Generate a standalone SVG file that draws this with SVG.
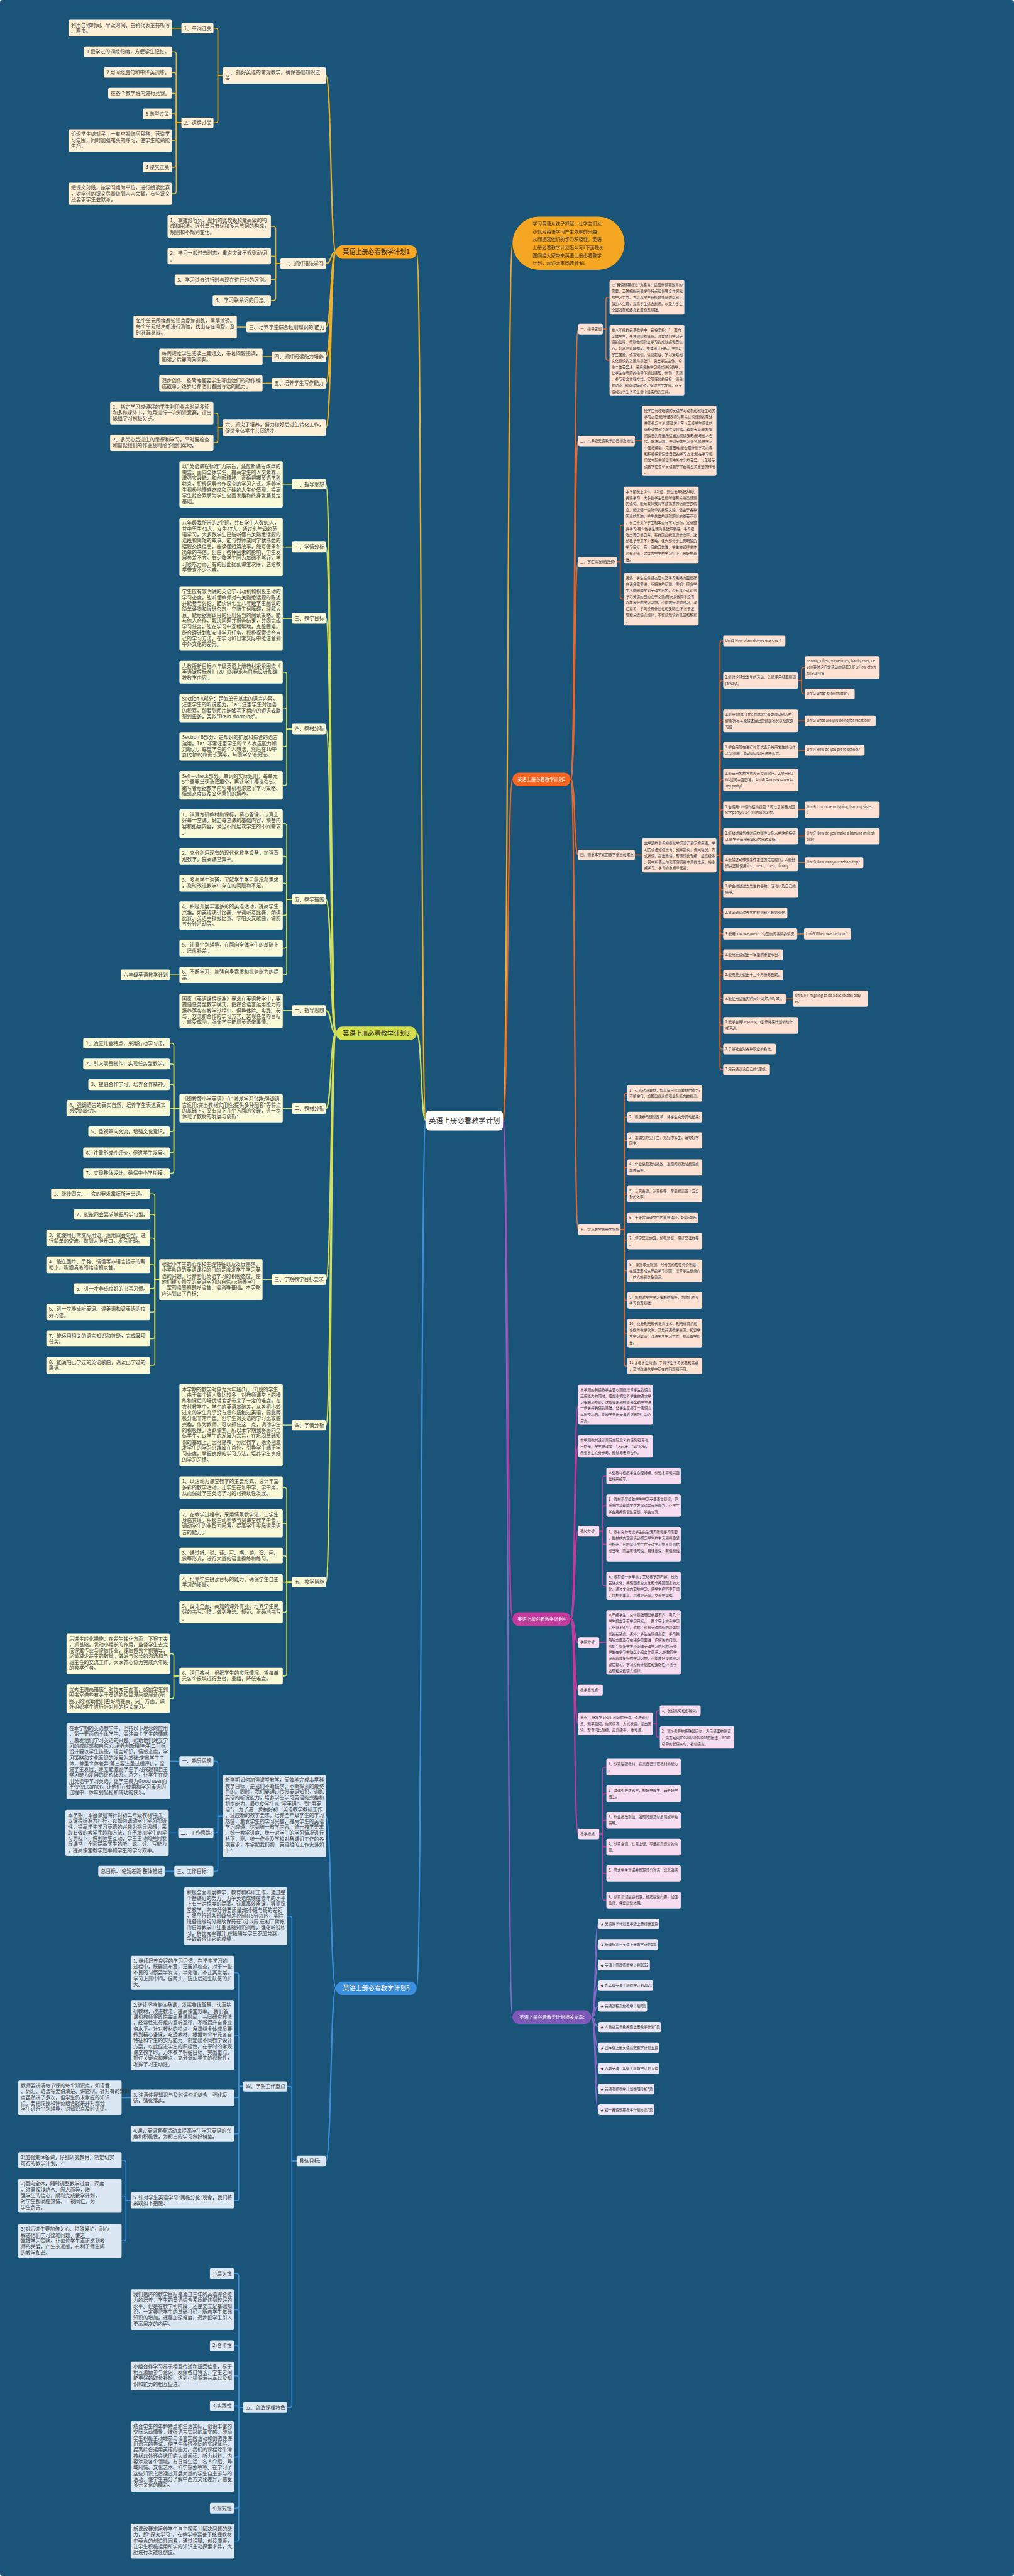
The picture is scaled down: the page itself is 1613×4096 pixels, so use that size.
<svg xmlns="http://www.w3.org/2000/svg" width="1613" height="4096" viewBox="0 0 1613 4096">
<style>
.t{font-family:"Noto Sans CJK SC","Noto Sans",sans-serif;font-size:12.5px;fill:#3a3a3a}
.s{font-family:"Noto Sans CJK SC","Noto Sans",sans-serif;font-size:9px;fill:#333}
.mt{font-family:"Noto Sans CJK SC","Noto Sans",sans-serif;font-size:16px;text-anchor:middle}
.ms{font-family:"Noto Sans CJK SC","Noto Sans",sans-serif;font-size:11.5px;text-anchor:middle;fill:#fff}
.b1{fill:#fdf0d6}.b3{fill:#fafad9}.b5{fill:#dbe8f4}.b2{fill:#fde2d3}.b4{fill:#f8dcef}.b6{fill:#ebe7f5}
rect{rx:4px}
#connectors path{fill:none;stroke-width:2.5}
.c0{stroke:#f5a623}.c1{stroke:#eeb127}.c3{stroke:#d5e05a}.c5{stroke:#3d8fd9}.c2{stroke:#e7672d}.c4{stroke:#c13a9b}.c6{stroke:#8467c2}
#connectors path.m{stroke-width:3.5}
</style>
<rect x="0" y="0" width="1613" height="4096" fill="#1a5479"/>
<g transform="scale(0.63)">
<g id="connectors">
<path class="m c1" d="M1075,2828 C1062,2828 1066,636 1052,636"/>
<path class="m c3" d="M1075,2828 C1062,2828 1066,2608 1052,2608"/>
<path class="m c5" d="M1075,2828 C1062,2828 1066,5018 1052,5018"/>
<path class="m c0" d="M1270,2828 C1283,2828 1281,614 1294,614"/>
<path class="m c2" d="M1270,2828 C1283,2828 1281,1967 1294,1967"/>
<path class="m c4" d="M1270,2828 C1283,2828 1281,4086 1294,4086"/>
<path class="m c6" d="M1270,2828 C1283,2828 1281,5091 1294,5091"/>
<path class="m c1" d="M848,636 C834,636 837,190.5 823,190.5"/>
<path class="m c1" d="M848,636 C834,636 837,665 823,665"/>
<path class="m c1" d="M848,636 C834,636 837,825.5 823,825.5"/>
<path class="m c1" d="M848,636 C834,636 837,900 823,900"/>
<path class="m c1" d="M848,636 C834,636 837,967.5 823,967.5"/>
<path class="m c1" d="M848,636 C834,636 837,1079.5 823,1079.5"/>
<path class="c1" d="M562,190.5 H550 V77 Q550,71 544,71 H539"/>
<path class="c1" d="M562,190.5 H550 V304 Q550,310 544,310 H539"/>
<path class="c1" d="M458,71 H434"/>
<path class="c1" d="M458,310 H445 V136.5 Q445,130.5 439,130.5 H434"/>
<path class="c1" d="M458,310 H445 V189 Q445,183 439,183 H434"/>
<path class="c1" d="M458,310 H445 V241.5 Q445,235.5 439,235.5 H434"/>
<path class="c1" d="M458,310 H445 V293.5 Q445,287.5 439,287.5 H434"/>
<path class="c1" d="M458,310 H445 V348.5 Q445,354.5 439,354.5 H434"/>
<path class="c1" d="M458,310 H445 V416 Q445,422 439,422 H434"/>
<path class="c1" d="M458,310 H445 V483 Q445,489 439,489 H434"/>
<path class="c1" d="M708,665 H696 V577.5 Q696,571.5 690,571.5 H684"/>
<path class="c1" d="M708,665 H696 V652.5 Q696,646.5 690,646.5 H684"/>
<path class="c1" d="M708,665 H696 V700 Q696,706 690,706 H684"/>
<path class="c1" d="M708,665 H696 V752.5 Q696,758.5 690,758.5 H684"/>
<path class="c1" d="M622,825.5 H598"/>
<path class="c1" d="M686,900 H663"/>
<path class="c1" d="M686,967.5 H663"/>
<path class="c1" d="M562,1079.5 H550 V1048.5 Q550,1042.5 544,1042.5 H539"/>
<path class="c1" d="M562,1079.5 H550 V1111.5 Q550,1117.5 544,1117.5 H539"/>
<path class="m c3" d="M848,2608 C834,2608 837,1222 823,1222"/>
<path class="m c3" d="M848,2608 C834,2608 837,1380.5 823,1380.5"/>
<path class="m c3" d="M848,2608 C834,2608 837,1560.5 823,1560.5"/>
<path class="m c3" d="M848,2608 C834,2608 837,1839.5 823,1839.5"/>
<path class="m c3" d="M848,2608 C834,2608 837,2270 823,2270"/>
<path class="m c3" d="M848,2608 C834,2608 837,2550.5 823,2550.5"/>
<path class="m c3" d="M848,2608 C834,2608 837,2797.5 823,2797.5"/>
<path class="m c3" d="M848,2608 C834,2608 837,3229.5 823,3229.5"/>
<path class="m c3" d="M848,2608 C834,2608 837,3597 823,3597"/>
<path class="m c3" d="M848,2608 C834,2608 837,3993 823,3993"/>
<path class="c3" d="M737,1222 H714"/>
<path class="c3" d="M737,1380.5 H714"/>
<path class="c3" d="M737,1560.5 H714"/>
<path class="c3" d="M737,1839.5 H724 V1702.5 Q724,1696.5 718,1696.5 H714"/>
<path class="c3" d="M737,1839.5 H724 V1793 Q724,1787 718,1787 H714"/>
<path class="c3" d="M737,1839.5 H724 V1878 Q724,1884 718,1884 H714"/>
<path class="c3" d="M737,1839.5 H724 V1976 Q724,1982 718,1982 H714"/>
<path class="c3" d="M737,2270 H724 V2085 Q724,2079 718,2079 H714"/>
<path class="c3" d="M737,2270 H724 V2167 Q724,2161 718,2161 H714"/>
<path class="c3" d="M737,2270 H724 V2235 Q724,2229 718,2229 H714"/>
<path class="c3" d="M737,2270 H724 V2304.5 Q724,2310.5 718,2310.5 H714"/>
<path class="c3" d="M737,2270 H724 V2387 Q724,2393 718,2393 H714"/>
<path class="c3" d="M737,2270 H724 V2454.5 Q724,2460.5 718,2460.5 H714"/>
<path class="c3" d="M453,2460.5 H429"/>
<path class="c3" d="M737,2550.5 H714"/>
<path class="c3" d="M737,2797.5 H714"/>
<path class="c3" d="M453,2797 H439 V2639 Q439,2633 433,2633 H429"/>
<path class="c3" d="M453,2797 H439 V2691.5 Q439,2685.5 433,2685.5 H429"/>
<path class="c3" d="M453,2797 H439 V2743.5 Q439,2737.5 433,2737.5 H429"/>
<path class="c3" d="M453,2797 H429"/>
<path class="c3" d="M453,2797 H439 V2850 Q439,2856 433,2856 H429"/>
<path class="c3" d="M453,2797 H439 V2903 Q439,2909 433,2909 H429"/>
<path class="c3" d="M453,2797 H439 V2955 Q439,2961 433,2961 H429"/>
<path class="c3" d="M686,3229.5 H663"/>
<path class="c3" d="M402,3229.5 H391 V3019 Q391,3013 385,3013 H379"/>
<path class="c3" d="M402,3229.5 H391 V3071 Q391,3065 385,3065 H379"/>
<path class="c3" d="M402,3229.5 H391 V3130.5 Q391,3124.5 385,3124.5 H379"/>
<path class="c3" d="M402,3229.5 H391 V3198 Q391,3192 385,3192 H379"/>
<path class="c3" d="M402,3229.5 H391 V3246 Q391,3252 385,3252 H379"/>
<path class="c3" d="M402,3229.5 H391 V3305.5 Q391,3311.5 385,3311.5 H379"/>
<path class="c3" d="M402,3229.5 H391 V3372.5 Q391,3378.5 385,3378.5 H379"/>
<path class="c3" d="M402,3229.5 H391 V3440 Q391,3446 385,3446 H379"/>
<path class="c3" d="M737,3597 H714"/>
<path class="c3" d="M737,3993 H724 V3760.5 Q724,3754.5 718,3754.5 H714"/>
<path class="c3" d="M737,3993 H724 V3850.5 Q724,3844.5 718,3844.5 H714"/>
<path class="c3" d="M737,3993 H724 V3932.5 Q724,3926.5 718,3926.5 H714"/>
<path class="c3" d="M737,3993 H714"/>
<path class="c3" d="M737,3993 H724 V4063 Q724,4069 718,4069 H714"/>
<path class="c3" d="M737,3993 H724 V4224 Q724,4230 718,4230 H714"/>
<path class="c3" d="M453,4230 H439 V4180 Q439,4174 433,4174 H429"/>
<path class="c3" d="M453,4230 H439 V4281 Q439,4287 433,4287 H429"/>
<path class="m c5" d="M848,5018 C834,5018 837,4583.5 823,4583.5"/>
<path class="m c5" d="M848,5018 C834,5018 837,5454 823,5454"/>
<path class="c5" d="M562,4583.5 H550 V4451 Q550,4445 544,4445 H539"/>
<path class="c5" d="M562,4583.5 H550 V4620 Q550,4626 544,4626 H539"/>
<path class="c5" d="M562,4583.5 H550 V4716.5 Q550,4722.5 544,4722.5 H539"/>
<path class="c5" d="M453,4445 H429"/>
<path class="c5" d="M450,4626 H426"/>
<path class="c5" d="M440,4722.5 H416"/>
<path class="c5" d="M749,5454 H737 V4842 Q737,4836 731,4836 H725"/>
<path class="c5" d="M749,5454 H737 V5272 Q737,5266 731,5266 H725"/>
<path class="c5" d="M749,5454 H737 V6070.5 Q737,6076.5 731,6076.5 H725"/>
<path class="c5" d="M614,5266 H603 V4985 Q603,4979 597,4979 H591"/>
<path class="c5" d="M614,5266 H603 V5142.5 Q603,5136.5 597,5136.5 H591"/>
<path class="c5" d="M614,5266 H603 V5288.5 Q603,5294.5 597,5294.5 H591"/>
<path class="c5" d="M614,5266 H603 V5379.5 Q603,5385.5 597,5385.5 H591"/>
<path class="c5" d="M614,5266 H603 V5547.5 Q603,5553.5 597,5553.5 H591"/>
<path class="c5" d="M330,5294.5 H307"/>
<path class="c5" d="M330,5553.5 H318 V5458.5 Q318,5452.5 312,5452.5 H307"/>
<path class="c5" d="M330,5553.5 H318 V5548 Q318,5542 312,5542 H307"/>
<path class="c5" d="M330,5553.5 H318 V5650 Q318,5656 312,5656 H307"/>
<path class="c5" d="M614,6076.5 H603 V5744.5 Q603,5738.5 597,5738.5 H591"/>
<path class="c5" d="M614,6076.5 H603 V5835.5 Q603,5829.5 597,5829.5 H591"/>
<path class="c5" d="M614,6076.5 H603 V5926.5 Q603,5920.5 597,5920.5 H591"/>
<path class="c5" d="M614,6076.5 H603 V6002.5 Q603,5996.5 597,5996.5 H591"/>
<path class="c5" d="M614,6076.5 H603 V6072 H591"/>
<path class="c5" d="M614,6076.5 H603 V6195 Q603,6201 597,6201 H591"/>
<path class="c5" d="M614,6076.5 H603 V6324.5 Q603,6330.5 597,6330.5 H591"/>
<path class="c5" d="M614,6076.5 H603 V6408 Q603,6414 597,6414 H591"/>
<path class="m c2" d="M1441,1967 C1454,1967 1448,830.5 1460,830.5"/>
<path class="m c2" d="M1441,1967 C1454,1967 1448,1113 1460,1113"/>
<path class="m c2" d="M1441,1967 C1454,1967 1448,1418 1460,1418"/>
<path class="m c2" d="M1441,1967 C1454,1967 1448,2158 1460,2158"/>
<path class="m c2" d="M1441,1967 C1454,1967 1448,3103.5 1460,3103.5"/>
<path class="c2" d="M1522,830.5 H1530 V756.5 Q1530,750.5 1536,750.5 H1539"/>
<path class="c2" d="M1522,830.5 H1530 V903 Q1530,909 1536,909 H1539"/>
<path class="c2" d="M1603,1113 H1621"/>
<path class="c2" d="M1558,1418 H1566 V1330.5 Q1566,1324.5 1572,1324.5 H1575"/>
<path class="c2" d="M1558,1418 H1566 V1506 Q1566,1512 1572,1512 H1575"/>
<path class="c2" d="M1603,2158 H1621"/>
<path class="c2" d="M1809,2159 H1818 V1623.5 Q1818,1617.5 1824,1617.5 H1826"/>
<path class="c2" d="M1809,2159 H1818 V1723.5 Q1818,1717.5 1824,1717.5 H1826"/>
<path class="c2" d="M1809,2159 H1818 V1825.5 Q1818,1819.5 1824,1819.5 H1826"/>
<path class="c2" d="M1809,2159 H1818 V1899.5 Q1818,1893.5 1824,1893.5 H1826"/>
<path class="c2" d="M1809,2159 H1818 V1974.5 Q1818,1968.5 1824,1968.5 H1826"/>
<path class="c2" d="M1809,2159 H1818 V2049.5 Q1818,2043.5 1824,2043.5 H1826"/>
<path class="c2" d="M1809,2159 H1818 V2116.5 Q1818,2110.5 1824,2110.5 H1826"/>
<path class="c2" d="M1809,2159 H1818 V2172 Q1818,2178 1824,2178 H1826"/>
<path class="c2" d="M1809,2159 H1818 V2239 Q1818,2245 1824,2245 H1826"/>
<path class="c2" d="M1809,2159 H1818 V2298.5 Q1818,2304.5 1824,2304.5 H1826"/>
<path class="c2" d="M1809,2159 H1818 V2351 Q1818,2357 1824,2357 H1826"/>
<path class="c2" d="M1809,2159 H1818 V2403.5 Q1818,2409.5 1824,2409.5 H1826"/>
<path class="c2" d="M1809,2159 H1818 V2455 Q1818,2461 1824,2461 H1826"/>
<path class="c2" d="M1809,2159 H1818 V2515 Q1818,2521 1824,2521 H1826"/>
<path class="c2" d="M1809,2159 H1818 V2582 Q1818,2588 1824,2588 H1826"/>
<path class="c2" d="M1809,2159 H1818 V2641.5 Q1818,2647.5 1824,2647.5 H1826"/>
<path class="c2" d="M1809,2159 H1818 V2693.5 Q1818,2699.5 1824,2699.5 H1826"/>
<path class="c2" d="M2015,1717.5 H2024 V1690.5 Q2024,1684.5 2030,1684.5 H2032"/>
<path class="c2" d="M2015,1717.5 H2024 V1745.5 Q2024,1751.5 2030,1751.5 H2032"/>
<path class="c2" d="M2015,1819.5 H2032"/>
<path class="c2" d="M2015,1893.5 H2032"/>
<path class="c2" d="M2015,2043.5 H2032"/>
<path class="c2" d="M2015,2110.5 H2032"/>
<path class="c2" d="M2015,2177.5 H2032"/>
<path class="c2" d="M2013,2357 H2030"/>
<path class="c2" d="M1984,2521 H2002"/>
<path class="c2" d="M1567,3103.5 H1576 V2765.5 Q1576,2759.5 1582,2759.5 H1584"/>
<path class="c2" d="M1567,3103.5 H1576 V2825.5 Q1576,2819.5 1582,2819.5 H1584"/>
<path class="c2" d="M1567,3103.5 H1576 V2884.5 Q1576,2878.5 1582,2878.5 H1584"/>
<path class="c2" d="M1567,3103.5 H1576 V2952.5 Q1576,2946.5 1582,2946.5 H1584"/>
<path class="c2" d="M1567,3103.5 H1576 V3019.5 Q1576,3013.5 1582,3013.5 H1584"/>
<path class="c2" d="M1567,3103.5 H1576 V3079.5 Q1576,3073.5 1582,3073.5 H1584"/>
<path class="c2" d="M1567,3103.5 H1576 V3126.5 Q1576,3132.5 1582,3132.5 H1584"/>
<path class="c2" d="M1567,3103.5 H1576 V3201.5 Q1576,3207.5 1582,3207.5 H1584"/>
<path class="c2" d="M1567,3103.5 H1576 V3276 Q1576,3282 1582,3282 H1584"/>
<path class="c2" d="M1567,3103.5 H1576 V3359 Q1576,3365 1582,3365 H1584"/>
<path class="c2" d="M1567,3103.5 H1576 V3441.5 Q1576,3447.5 1582,3447.5 H1584"/>
<path class="m c4" d="M1441,4086 C1454,4086 1448,3545.5 1460,3545.5"/>
<path class="m c4" d="M1441,4086 C1454,4086 1448,3650 1460,3650"/>
<path class="m c4" d="M1441,4086 C1454,4086 1448,3864.5 1460,3864.5"/>
<path class="m c4" d="M1441,4086 C1454,4086 1448,4145.5 1460,4145.5"/>
<path class="m c4" d="M1441,4086 C1454,4086 1448,4265.5 1460,4265.5"/>
<path class="m c4" d="M1441,4086 C1454,4086 1448,4350.5 1460,4350.5"/>
<path class="m c4" d="M1441,4086 C1454,4086 1448,4629 1460,4629"/>
<path class="c4" d="M1513,3864.5 H1522 V3731.5 Q1522,3725.5 1528,3725.5 H1531"/>
<path class="c4" d="M1513,3864.5 H1522 V3806 Q1522,3800 1528,3800 H1531"/>
<path class="c4" d="M1513,3864.5 H1522 V3891.5 Q1522,3897.5 1528,3897.5 H1531"/>
<path class="c4" d="M1513,3864.5 H1522 V3996.5 Q1522,4002.5 1528,4002.5 H1531"/>
<path class="c4" d="M1513,4145.5 H1531"/>
<path class="c4" d="M1648,4350.5 H1657 V4323.5 Q1657,4317.5 1663,4317.5 H1666"/>
<path class="c4" d="M1648,4350.5 H1657 V4379 Q1657,4385 1663,4385 H1666"/>
<path class="c4" d="M1513,4629 H1522 V4466 Q1522,4460 1528,4460 H1531"/>
<path class="c4" d="M1513,4629 H1522 V4533 Q1522,4527 1528,4527 H1531"/>
<path class="c4" d="M1513,4629 H1522 V4600 Q1522,4594 1528,4594 H1531"/>
<path class="c4" d="M1513,4629 H1522 V4656 Q1522,4662 1528,4662 H1531"/>
<path class="c4" d="M1513,4629 H1522 V4722.5 Q1522,4728.5 1528,4728.5 H1531"/>
<path class="c4" d="M1513,4629 H1522 V4790 Q1522,4796 1528,4796 H1531"/>
<path class="c6" d="M1493,5091 C1506,5091 1499,4856 1511,4856"/>
<path class="c6" d="M1493,5091 C1506,5091 1499,4907.5 1511,4907.5"/>
<path class="c6" d="M1493,5091 C1506,5091 1499,4959.5 1511,4959.5"/>
<path class="c6" d="M1493,5091 C1506,5091 1499,5011.5 1511,5011.5"/>
<path class="c6" d="M1493,5091 C1506,5091 1499,5064 1511,5064"/>
<path class="c6" d="M1493,5091 C1506,5091 1499,5116 1511,5116"/>
<path class="c6" d="M1493,5091 C1506,5091 1499,5168 1511,5168"/>
<path class="c6" d="M1493,5091 C1506,5091 1499,5220.5 1511,5220.5"/>
<path class="c6" d="M1493,5091 C1506,5091 1499,5272.5 1511,5272.5"/>
<path class="c6" d="M1493,5091 C1506,5091 1499,5324.5 1511,5324.5"/>
</g>

<g id="center"><rect x="1075" y="2803" width="195" height="50" style="rx:10px" fill="#ffffff"/><text x="1172.5" y="2834.5" style="font-family:'Noto Sans CJK SC',sans-serif;font-size:18px;text-anchor:middle;fill:#333">英语上册必看教学计划</text></g>

<g id="intro"><rect x="1294" y="547" width="283" height="134" style="rx:67px" fill="#f5a623"/><text x="1345" y="568.7" style="font-family:'Noto Sans CJK SC',sans-serif;font-size:11.6px;fill:#333">学习英语从孩子抓起，让学生们从<tspan x="1345" dy="20">小就对英语学习产生浓厚的兴趣，</tspan><tspan x="1345" dy="20">从而提高他们的学习积极性。英语</tspan><tspan x="1345" dy="20">上册必看教学计划怎么写?下面是树</tspan><tspan x="1345" dy="20">图网给大家带来英语上册必看教学</tspan><tspan x="1345" dy="20">计划，欢迎大家阅读参考!</tspan></text></g>

<!-- PLAN 1 -->
<g id="p1"><rect x="848" y="619" width="204" height="34" style="rx:17px" fill="#f6a623"/><text class="mt" x="950" y="641.5" fill="#2b2b2b">英语上册必看教学计划1</text></g>
<g id="p1-1"><rect class="b1" x="562" y="170" width="261" height="41"/><text class="t" x="568.5" y="187.5">一、 抓好英语的常规教学，确保基础知识过<tspan x="568.5" dy="14.8">关</tspan></text></g>
<g id="p1-2"><rect class="b1" x="708" y="652" width="115" height="26.5"/><text class="t" x="714.5" y="669.5">二、 抓好语法学习</text></g>
<g id="p1-3"><rect class="b1" x="622" y="812" width="201" height="27"/><text class="t" x="628.5" y="829.5">三、培养学生综合运用知识的'能力</text></g>
<g id="p1-4"><rect class="b1" x="686" y="887" width="137" height="26.5"/><text class="t" x="692.5" y="904.5">四、抓好阅读能力培养</text></g>
<g id="p1-5"><rect class="b1" x="686" y="954" width="137" height="27"/><text class="t" x="692.5" y="971.5">五、培养学生写作能力</text></g>
<g id="p1-6"><rect class="b1" x="562" y="1059" width="261" height="41"/><text class="t" x="568.5" y="1076.5">六、抓尖子培养，努力做好后进生转化工作，<tspan x="568.5" dy="14.8">促进全体学生共同进步</tspan></text></g>
<g id="p1-1-1"><rect class="b1" x="458" y="58" width="81" height="26"/><text class="t" x="464.5" y="75.5">1、单词过关</text></g>
<g id="p1-1-2"><rect class="b1" x="458" y="297" width="81" height="26"/><text class="t" x="464.5" y="314.5">2、词组过关</text></g>
<g id="p1-1-1-1"><rect class="b1" x="173" y="50" width="261" height="42"/><text class="t" x="179.5" y="67.5">利用自修时间、早读时间，由科代表主持听写<tspan x="179.5" dy="14.8">、默书。</tspan></text></g>
<g id="p1-1-2-1"><rect class="b1" x="212" y="117" width="222" height="27"/><text class="t" x="218.5" y="134.5">1 把学过的词组归纳，方便学生记忆。</text></g>
<g id="p1-1-2-2"><rect class="b1" x="262" y="170" width="172" height="26"/><text class="t" x="268.5" y="187.5">2 用词组造句和中译英训练。</text></g>
<g id="p1-1-2-3"><rect class="b1" x="273" y="222" width="161" height="27"/><text class="t" x="279.5" y="239.5">在各个教学班内进行竞赛。</text></g>
<g id="p1-1-2-4"><rect class="b1" x="361" y="274" width="73" height="27"/><text class="t" x="367.5" y="291.5">3 句型过关</text></g>
<g id="p1-1-2-5"><rect class="b1" x="173" y="326" width="261" height="57"/><text class="t" x="179.5" y="343.5">组织学生结对子，一有空就你问我答，营造学<tspan x="179.5" dy="14.8">习氛围，同时加强笔头的练习，使学生能熟能</tspan><tspan x="179.5" dy="14.8">生巧。</tspan></text></g>
<g id="p1-1-2-6"><rect class="b1" x="361" y="409" width="73" height="26"/><text class="t" x="367.5" y="426.5">4 课文过关</text></g>
<g id="p1-1-2-7"><rect class="b1" x="173" y="461" width="261" height="56"/><text class="t" x="179.5" y="478.5">把课文分段，按学习组为单位，进行朗读比赛<tspan x="179.5" dy="14.8">，对学过的课文尽量做到人人会背，有些课文</tspan><tspan x="179.5" dy="14.8">还要求学生会默写。</tspan></text></g>
<g id="p1-2-1"><rect class="b1" x="423" y="543" width="261" height="57"/><text class="t" x="429.5" y="560.5">1、掌握形容词、副词的比较级和最高级的构<tspan x="429.5" dy="14.8">成和用法。区分单音节词和多音节词的构成，</tspan><tspan x="429.5" dy="14.8">规则和不规则变化。</tspan></text></g>
<g id="p1-2-2"><rect class="b1" x="423" y="626" width="261" height="41"/><text class="t" x="429.5" y="643.5">2、学习一般过去时态，重点突破不规则动词<tspan x="429.5" dy="14.8">。</tspan></text></g>
<g id="p1-2-3"><rect class="b1" x="441" y="693" width="243" height="26"/><text class="t" x="447.5" y="710.5">3、学习过去进行时与现在进行时的区别。</text></g>
<g id="p1-2-4"><rect class="b1" x="537" y="745" width="147" height="27"/><text class="t" x="543.5" y="762.5">4、 学习联系词的用法。</text></g>
<g id="p1-3-1"><rect class="b1" x="337" y="797" width="261" height="57"/><text class="t" x="343.5" y="814.5">每个单元围绕着知识点反复训练，层层渗透。<tspan x="343.5" dy="14.8">每个单元结束都进行测验，找出存在问题，及</tspan><tspan x="343.5" dy="14.8">时补漏补缺。</tspan></text></g>
<g id="p1-4-1"><rect class="b1" x="402" y="880" width="261" height="41"/><text class="t" x="408.5" y="897.5">每周规定学生阅读三篇短文，带着问题阅读，<tspan x="408.5" dy="14.8">阅读之后要回答问题。</tspan></text></g>
<g id="p1-5-1"><rect class="b1" x="402" y="947" width="261" height="41"/><text class="t" x="408.5" y="964.5">逐步创作一些简笔画要学生写出他们的动作编<tspan x="408.5" dy="14.8">成故事，逐步培养他们看图写话的能力。</tspan></text></g>
<g id="p1-6-1"><rect class="b1" x="278" y="1014" width="261" height="57"/><text class="t" x="284.5" y="1031.5">1、指定学习成绩好的学生利用业余时间多读<tspan x="284.5" dy="14.8">和多做课外书，每月进行一次知识竞赛，评出</tspan><tspan x="284.5" dy="14.8">级组学习积极分子。</tspan></text></g>
<g id="p1-6-2"><rect class="b1" x="278" y="1097" width="261" height="41"/><text class="t" x="284.5" y="1114.5">2、多关心后进生的思想和学习，平时要检查<tspan x="284.5" dy="14.8">和督促他们的作业及时给予他们帮助。</tspan></text></g>

<!-- PLAN 3 -->
<g id="p3"><rect x="848" y="2591" width="204" height="34" style="rx:17px" fill="#d4df4e"/><text class="mt" x="950" y="2613.5" fill="#2b2b2b">英语上册必看教学计划3</text></g>
<g id="p3-1"><rect class="b3" x="737" y="1209" width="86" height="26"/><text class="t" x="743.5" y="1226.5">一、指导思想</text></g>
<g id="p3-1-1"><rect class="b3" x="453" y="1164" width="261" height="117"/><text class="t" x="459.5" y="1181.5">以"英语课程标准"为宗旨，适应新课程改革的<tspan x="459.5" dy="14.8">需要，面向全体学生，提高学生的人文素养，</tspan><tspan x="459.5" dy="14.8">增强实践能力和创新精神。正确把握英语学科</tspan><tspan x="459.5" dy="14.8">特点，积极倡导合作探究的学习方式。培养学</tspan><tspan x="459.5" dy="14.8">生积极地情感态度和正确的人生价值观，提高</tspan><tspan x="459.5" dy="14.8">学生综合素质为学生全面发展和终身发展奠定</tspan><tspan x="459.5" dy="14.8">基础。</tspan></text></g>
<g id="p3-2"><rect class="b3" x="737" y="1367" width="86" height="27"/><text class="t" x="743.5" y="1384.5">二、学情分析</text></g>
<g id="p3-2-1"><rect class="b3" x="453" y="1307" width="261" height="147"/><text class="t" x="459.5" y="1324.5">八年级我所带的2个班，共有学生人数91人，<tspan x="459.5" dy="14.8">其中男生43人，女生47人。通过七年级的英</tspan><tspan x="459.5" dy="14.8">语学习，大多数学生已能听懂有关熟悉话题的</tspan><tspan x="459.5" dy="14.8">语段和简短的故事。能与教师或同学就熟悉的</tspan><tspan x="459.5" dy="14.8">话题交换信息。能读懂短篇故事，能写便条和</tspan><tspan x="459.5" dy="14.8">简单的书信。但由于各种因素的影响，学生发</tspan><tspan x="459.5" dy="14.8">展参差不齐。有少数学生因为基础不够好，学</tspan><tspan x="459.5" dy="14.8">习很吃力而，有的因此扰乱课堂次序，这给教</tspan><tspan x="459.5" dy="14.8">学带来不少困难。</tspan></text></g>
<g id="p3-3"><rect class="b3" x="737" y="1547" width="86" height="27"/><text class="t" x="743.5" y="1564.5">三、教学目标</text></g>
<g id="p3-3-1"><rect class="b3" x="453" y="1480" width="261" height="162"/><text class="t" x="459.5" y="1497.5">学生应有较明确的英语学习动机和积极主动的<tspan x="459.5" dy="14.8">学习态度。能听懂教师对有关熟悉话题的陈述</tspan><tspan x="459.5" dy="14.8">并能参与讨论。能读供七至八年级学生阅读的</tspan><tspan x="459.5" dy="14.8">简单读物和报纸杂志，克服生词障碍，理解大</tspan><tspan x="459.5" dy="14.8">意。能根据阅读目的运用适当的阅读策略。能</tspan><tspan x="459.5" dy="14.8">与他人合作，解决问题并报告结果，共同完成</tspan><tspan x="459.5" dy="14.8">学习任务。能在学习中互相帮助，克服困难。</tspan><tspan x="459.5" dy="14.8">能合理计划和安排学习任务，积极探索适合自</tspan><tspan x="459.5" dy="14.8">己的学习方法。在学习和日常交际中能注意到</tspan><tspan x="459.5" dy="14.8">中外文化的差异。</tspan></text></g>
<g id="p3-4"><rect class="b3" x="737" y="1826" width="86" height="27"/><text class="t" x="743.5" y="1843.5">四、教材分析</text></g>
<g id="p3-4-1"><rect class="b3" x="453" y="1668" width="261" height="57"/><text class="t" x="459.5" y="1685.5">人教版新目标八年级英语上册教材紧紧围绕《<tspan x="459.5" dy="14.8">英语课程标准》(20_)的要求与目标设计和编</tspan><tspan x="459.5" dy="14.8">排教学内容。</tspan></text></g>
<g id="p3-4-2"><rect class="b3" x="453" y="1751" width="261" height="72"/><text class="t" x="459.5" y="1768.5">Section A部分：是每单元基本的语言内容，<tspan x="459.5" dy="14.8">注重学生的听说能力。1a：注重学生对短语</tspan><tspan x="459.5" dy="14.8">的积累，即看到图片能够写下相应的短语或联</tspan><tspan x="459.5" dy="14.8">想到更多，类似"Brain storming"。</tspan></text></g>
<g id="p3-4-3"><rect class="b3" x="453" y="1848" width="261" height="72"/><text class="t" x="459.5" y="1865.5">Section B部分：是知识的扩展和综合的语言<tspan x="459.5" dy="14.8">运用。1a：非常注重学生的个人表达能力和</tspan><tspan x="459.5" dy="14.8">判断力，尊重学生的个人想法，然后在1b中</tspan><tspan x="459.5" dy="14.8">以Pairwork形式落实，与同学交流想法。</tspan></text></g>
<g id="p3-4-4"><rect class="b3" x="453" y="1946" width="261" height="72"/><text class="t" x="459.5" y="1963.5">Self—check部分。单词的实际运用，每单元<tspan x="459.5" dy="14.8">5个重要单词选择填空，再让学生模拟造句。</tspan><tspan x="459.5" dy="14.8">编写者根据教学内容有机地渗透了学习策略、</tspan><tspan x="459.5" dy="14.8">情感态度以及文化意识的培养。</tspan></text></g>
<g id="p3-5"><rect class="b3" x="737" y="2257" width="86" height="26"/><text class="t" x="743.5" y="2274.5">五、教学措施</text></g>
<g id="p3-5-1"><rect class="b3" x="453" y="2043" width="261" height="72"/><text class="t" x="459.5" y="2060.5">1、认真专研教材和课标，精心备课，认真上<tspan x="459.5" dy="14.8">好每一堂课。确定每堂课的基础内容，预备内</tspan><tspan x="459.5" dy="14.8">容和拓展内容，满足不同层次学生的不同需求</tspan><tspan x="459.5" dy="14.8">。</tspan></text></g>
<g id="p3-5-2"><rect class="b3" x="453" y="2140" width="261" height="42"/><text class="t" x="459.5" y="2157.5">2、充分利用现有的现代化教学设备，加强直<tspan x="459.5" dy="14.8">观教学，提高课堂效率。</tspan></text></g>
<g id="p3-5-3"><rect class="b3" x="453" y="2208" width="261" height="42"/><text class="t" x="459.5" y="2225.5">3、多与学生沟通，了解学生学习状况和需求<tspan x="459.5" dy="14.8">，及时改进教学中存在的问题和不足。</tspan></text></g>
<g id="p3-5-4"><rect class="b3" x="453" y="2275" width="261" height="71"/><text class="t" x="459.5" y="2292.5">4、积极开展丰富多彩的英语活动，提高学生<tspan x="459.5" dy="14.8">兴趣。如英语演讲比赛、单词听写比赛、朗读</tspan><tspan x="459.5" dy="14.8">比赛、英语手抄报比赛、学唱英文歌曲，课前</tspan><tspan x="459.5" dy="14.8">五分钟活动等。</tspan></text></g>
<g id="p3-5-5"><rect class="b3" x="453" y="2372" width="261" height="42"/><text class="t" x="459.5" y="2389.5">5、注重个别辅导，在面向全体学生的基础上<tspan x="459.5" dy="14.8">，培优补差。</tspan></text></g>
<g id="p3-5-6"><rect class="b3" x="453" y="2440" width="261" height="41"/><text class="t" x="459.5" y="2457.5">6、不断学习，加强自身素质和业务能力的提<tspan x="459.5" dy="14.8">高。</tspan></text></g>
<g id="p3-5-6-1"><rect class="b3" x="305" y="2447" width="124" height="27"/><text class="t" x="311.5" y="2464.5">六年级英语教学计划</text></g>
<g id="p3-6"><rect class="b3" x="737" y="2537" width="86" height="27"/><text class="t" x="743.5" y="2554.5">一、指导思想</text></g>
<g id="p3-6-1"><rect class="b3" x="453" y="2508" width="261" height="86"/><text class="t" x="459.5" y="2525.5">国家《英语课程标准》要求在英语教学中，要<tspan x="459.5" dy="14.8">提倡任务型教学模式，把综合语言运用能力的</tspan><tspan x="459.5" dy="14.8">培养落实在教学过程中，倡导体验、实践、参</tspan><tspan x="459.5" dy="14.8">与、交流和合作的学习方式，实现任务的目标</tspan><tspan x="459.5" dy="14.8">，感受成功，强调学生能用英语做事情。</tspan></text></g>
<g id="p3-7"><rect class="b3" x="737" y="2784" width="86" height="27"/><text class="t" x="743.5" y="2801.5">二、教材分析</text></g>
<g id="p3-7-1"><rect class="b3" x="453" y="2761" width="261" height="72"/><text class="t" x="459.5" y="2778.5">《闽教版小学英语》在"激发学习兴趣;强调语<tspan x="459.5" dy="14.8">言运用;突出教材实用性;提供多种配套"等特点</tspan><tspan x="459.5" dy="14.8">的基础上，又有以下几个方面的突破，进一步</tspan><tspan x="459.5" dy="14.8">体现了教材的发展与创新：</tspan></text></g>
<g id="p3-7-1-1"><rect class="b3" x="210" y="2620" width="219" height="26"/><text class="t" x="216.5" y="2637.5">1、适应儿童特点，采用行动学习法。</text></g>
<g id="p3-7-1-2"><rect class="b3" x="210" y="2672" width="219" height="27"/><text class="t" x="216.5" y="2689.5">2、引入项目制作，实现任务型教学。</text></g>
<g id="p3-7-1-3"><rect class="b3" x="223" y="2724" width="206" height="27"/><text class="t" x="229.5" y="2741.5">3、提倡合作学习，培养合作精神。</text></g>
<g id="p3-7-1-4"><rect class="b3" x="168" y="2776" width="261" height="41"/><text class="t" x="174.5" y="2793.5">4、强调语言的真实自然，培养学生表达真实<tspan x="174.5" dy="14.8">感受的能力。</tspan></text></g>
<g id="p3-7-1-5"><rect class="b3" x="223" y="2843" width="206" height="26"/><text class="t" x="229.5" y="2860.5">5、重视双向交流，增强文化意识。</text></g>
<g id="p3-7-1-6"><rect class="b3" x="210" y="2896" width="219" height="26"/><text class="t" x="216.5" y="2913.5">6、注重形成性评价，促进学生发展。</text></g>
<g id="p3-7-1-7"><rect class="b3" x="210" y="2948" width="219" height="26"/><text class="t" x="216.5" y="2965.5">7、实现整体设计，确保中小学衔接。</text></g>
<g id="p3-8"><rect class="b3" x="686" y="3216" width="137" height="27"/><text class="t" x="692.5" y="3233.5">三、学期教学目标要求</text></g>
<g id="p3-8-1"><rect class="b3" x="402" y="3178" width="261" height="103"/><text class="t" x="408.5" y="3195.5">根据小学生的心理和生理特征以及发展需求，<tspan x="408.5" dy="14.8">小学阶段的英语课程的目的是激发学生学习英</tspan><tspan x="408.5" dy="14.8">语的兴趣，培养他们英语学习的积极态度，使</tspan><tspan x="408.5" dy="14.8">他们建立初步的英语学习的自信心;培养学生</tspan><tspan x="408.5" dy="14.8">一定的语感和良好语音、语调等基础。本学期</tspan><tspan x="408.5" dy="14.8">应达到以下目标：</tspan></text></g>
<g id="p3-8-1-1"><rect class="b3" x="129" y="3000" width="250" height="26"/><text class="t" x="135.5" y="3017.5">1、能按四会、三会的要求掌握所学单词。</text></g>
<g id="p3-8-1-2"><rect class="b3" x="186" y="3052" width="193" height="26"/><text class="t" x="192.5" y="3069.5">2、能按四会要求掌握所学句型。</text></g>
<g id="p3-8-1-3"><rect class="b3" x="117" y="3104" width="262" height="41"/><text class="t" x="123.5" y="3121.5">3、能使用日常交际用语，活用四会句型，进<tspan x="123.5" dy="14.8">行简单的交流，做到大胆开口，发音正确。</tspan></text></g>
<g id="p3-8-1-4"><rect class="b3" x="117" y="3171" width="262" height="42"/><text class="t" x="123.5" y="3188.5">4、能在图片、手势、情境等非语言提示的帮<tspan x="123.5" dy="14.8">助下，听懂清晰的话语和录音。</tspan></text></g>
<g id="p3-8-1-5"><rect class="b3" x="186" y="3239" width="193" height="26"/><text class="t" x="192.5" y="3256.5">5、进一步养成良好的书写习惯。</text></g>
<g id="p3-8-1-6"><rect class="b3" x="117" y="3291" width="262" height="41"/><text class="t" x="123.5" y="3308.5">6、进一步养成听英语、读英语和说英语的良<tspan x="123.5" dy="14.8">好习惯。</tspan></text></g>
<g id="p3-8-1-7"><rect class="b3" x="117" y="3358" width="262" height="41"/><text class="t" x="123.5" y="3375.5">7、能运用相关的语言知识和技能，完成某项<tspan x="123.5" dy="14.8">任务。</tspan></text></g>
<g id="p3-8-1-8"><rect class="b3" x="117" y="3425" width="262" height="42"/><text class="t" x="123.5" y="3442.5">8、能演唱已学过的英语歌曲，诵读已学过的<tspan x="123.5" dy="14.8">歌谣。</tspan></text></g>
<g id="p3-9"><rect class="b3" x="737" y="3584" width="86" height="26"/><text class="t" x="743.5" y="3601.5">四、学情分析</text></g>
<g id="p3-9-1"><rect class="b3" x="453" y="3493" width="261" height="207"/><text class="t" x="459.5" y="3510.5">本学期的教学对象为六年级(1)、(2)班的学生<tspan x="459.5" dy="14.8">。由于每个班人数比较多，对教师课堂上的操</tspan><tspan x="459.5" dy="14.8">练和课后的培优辅差都带来了一定的难度。在</tspan><tspan x="459.5" dy="14.8">农村教学中，学生的英语基础差，从各初小转</tspan><tspan x="459.5" dy="14.8">过来的学生几乎没有怎么接触过英语，因此两</tspan><tspan x="459.5" dy="14.8">极分化非常严重。但学生对英语的学习比较感</tspan><tspan x="459.5" dy="14.8">兴趣。作为教师，可以抓住这一点，调动学生</tspan><tspan x="459.5" dy="14.8">的积极性，活跃课堂。所以本学期我将面向全</tspan><tspan x="459.5" dy="14.8">体学生，以学生的发展为宗旨，在巩固基础知</tspan><tspan x="459.5" dy="14.8">识的基础上，因材施教，分层教学，始终把激</tspan><tspan x="459.5" dy="14.8">发学生的学习兴趣放在首位，引导学生端正学</tspan><tspan x="459.5" dy="14.8">习态度，掌握良好的学习方法，培养学生良好</tspan><tspan x="459.5" dy="14.8">的学习习惯。</tspan></text></g>
<g id="p3-10"><rect class="b3" x="737" y="3980" width="86" height="26"/><text class="t" x="743.5" y="3997.5">五、教学措施</text></g>
<g id="p3-10-1"><rect class="b3" x="453" y="3726" width="261" height="57"/><text class="t" x="459.5" y="3743.5">1、以活动为课堂教学的主要形式，设计丰富<tspan x="459.5" dy="14.8">多彩的教学活动，让学生在乐中学、学中用，</tspan><tspan x="459.5" dy="14.8">从而保证学生英语学习的可持续性发展。</tspan></text></g>
<g id="p3-10-2"><rect class="b3" x="453" y="3809" width="261" height="71"/><text class="t" x="459.5" y="3826.5">2、在教学过程中，采用情景教学法，让学生<tspan x="459.5" dy="14.8">身临其境，积极主动地参与到课堂教学中去，</tspan><tspan x="459.5" dy="14.8">调动学生的非智力因素，提高学生实际运用语</tspan><tspan x="459.5" dy="14.8">言的能力。</tspan></text></g>
<g id="p3-10-3"><rect class="b3" x="453" y="3906" width="261" height="41"/><text class="t" x="459.5" y="3923.5">3、通过听、说、读、写、唱、游、演、画、<tspan x="459.5" dy="14.8">做等形式，进行大量的语言操练和练习。</tspan></text></g>
<g id="p3-10-4"><rect class="b3" x="453" y="3973" width="261" height="42"/><text class="t" x="459.5" y="3990.5">4、培养学生拼读音标的能力，确保学生自主<tspan x="459.5" dy="14.8">学习的质量。</tspan></text></g>
<g id="p3-10-5"><rect class="b3" x="453" y="4041" width="261" height="56"/><text class="t" x="459.5" y="4058.5">5、设计全面、高效的课外作业，培养学生良<tspan x="459.5" dy="14.8">好的书写习惯，做到整洁、规范、正确地书写</tspan><tspan x="459.5" dy="14.8">。</tspan></text></g>
<g id="p3-10-6"><rect class="b3" x="453" y="4209" width="261" height="42"/><text class="t" x="459.5" y="4226.5">6、活用教材，根据学生的实际情况，将每单<tspan x="459.5" dy="14.8">元各个板块进行整合，重组，降低难度。</tspan></text></g>
<g id="p3-10-6-1"><rect class="b3" x="168" y="4123" width="261" height="102"/><text class="t" x="174.5" y="4140.5">后进生转化措施：在差生转化方面，下狠工夫<tspan x="174.5" dy="14.8">，抓基础。发动小组长的作用，监督学生去完</tspan><tspan x="174.5" dy="14.8">成课堂作业与课后作业，课后做到个别辅导，</tspan><tspan x="174.5" dy="14.8">尽量减少差生的数量。做好与家长的沟通和与</tspan><tspan x="174.5" dy="14.8">班主任的交流工作，大家齐心协力完成六年级</tspan><tspan x="174.5" dy="14.8">的教学任务。</tspan></text></g>
<g id="p3-10-6-2"><rect class="b3" x="168" y="4251" width="261" height="72"/><text class="t" x="174.5" y="4268.5">优秀生提高措施：对优秀生而言，鼓励学生到<tspan x="174.5" dy="14.8">图书室借些有关于英语的短篇漫画或阅读(配</tspan><tspan x="174.5" dy="14.8">图示的)帮助他们更好地提高，另一方面，课</tspan><tspan x="174.5" dy="14.8">外组织学生进行针对性的相关复习。</tspan></text></g>

<!-- PLAN 5 -->
<g id="p5"><rect x="848" y="5001" width="204" height="34" style="rx:17px" fill="#3a8edb"/><text class="mt" x="950" y="5023.5" fill="#ffffff">英语上册必看教学计划5</text></g>
<g id="p5-1"><rect class="b5" x="562" y="4480" width="261" height="207"/><text class="t" x="568.5" y="4497.5">新学期如何加强课堂教学，高效地完成本学科<tspan x="568.5" dy="14.8">教学目标，是我们不断追求，不断探索的最终</tspan><tspan x="568.5" dy="14.8">目的。同时，我们要通过传授英语知识，训练</tspan><tspan x="568.5" dy="14.8">英语的听说能力，培养学生学习英语的兴趣和</tspan><tspan x="568.5" dy="14.8">初步能力，最终使学生从"学英语"，到"用英</tspan><tspan x="568.5" dy="14.8">语"。 为了进一步搞好初一英语教学教研工作</tspan><tspan x="568.5" dy="14.8">，适应新的教学要求，培养全年级学生的学习</tspan><tspan x="568.5" dy="14.8">热情，激发学生的学习兴趣，提高学生的英语</tspan><tspan x="568.5" dy="14.8">学习成绩，达到统一教学内容、统一教学要求</tspan><tspan x="568.5" dy="14.8">、统一教学进度、统一对学生的学习情况进行</tspan><tspan x="568.5" dy="14.8">检下：测、统一作业及学校对备课组工作的各</tspan><tspan x="568.5" dy="14.8">项要求，本学期我们初二英语组的工作安排如</tspan><tspan x="568.5" dy="14.8">下：</tspan></text></g>
<g id="p5-1-1"><rect class="b5" x="453" y="4432" width="86" height="26"/><text class="t" x="459.5" y="4449.5">一、指导思想</text></g>
<g id="p5-1-1-1"><rect class="b5" x="168" y="4349" width="261" height="192"/><text class="t" x="174.5" y="4366.5">在本学期的英语教学中，坚持以下理念的应用<tspan x="174.5" dy="14.8">：第一要面向全体学生，关注每个学生的情感</tspan><tspan x="174.5" dy="14.8">，激发他们学习英语的兴趣，帮助他们建立学</tspan><tspan x="174.5" dy="14.8">习的成就感和自信心,培养创新精神;第二目标</tspan><tspan x="174.5" dy="14.8">设计要以学生技能，语言知识，情感态度，学</tspan><tspan x="174.5" dy="14.8">习策略和文化意识的发展为基础;突出学生主</tspan><tspan x="174.5" dy="14.8">体，尊重个体差异;第三要注重过程评价，促</tspan><tspan x="174.5" dy="14.8">进学生发展，建立能激励学生学习兴趣和自主</tspan><tspan x="174.5" dy="14.8">学习能力发展的评价体系。总之，让学生在使</tspan><tspan x="174.5" dy="14.8">用英语中学习英语，让学生成为Good user而</tspan><tspan x="174.5" dy="14.8">不仅仅Learner。让他们在使用和学习英语的</tspan><tspan x="174.5" dy="14.8">过程中，体味到轻松和成功的快乐。</tspan></text></g>
<g id="p5-1-2"><rect class="b5" x="450" y="4613" width="89" height="26"/><text class="t" x="456.5" y="4630.5">二、工作思路:</text></g>
<g id="p5-1-2-1"><rect class="b5" x="165" y="4568" width="261" height="116"/><text class="t" x="171.5" y="4585.5">本学期，本备课组将针对初二年级教材特点，<tspan x="171.5" dy="14.8">以课程标准为杠杆，以如何调动学生学习积极</tspan><tspan x="171.5" dy="14.8">性，提高学生学习英语的兴趣为指导思想，采</tspan><tspan x="171.5" dy="14.8">取有效的教学手段和方法，在不增加学生的学</tspan><tspan x="171.5" dy="14.8">习负担下，做到师生互动，学生主动的共同发</tspan><tspan x="171.5" dy="14.8">展课堂，全面提高学生的听、说、读、写能力</tspan><tspan x="171.5" dy="14.8">，提高课堂教学效率和学生的学习效率。</tspan></text></g>
<g id="p5-1-3"><rect class="b5" x="440" y="4709" width="99" height="27"/><text class="t" x="446.5" y="4726.5">三、工作目标:</text></g>
<g id="p5-1-3-1"><rect class="b5" x="248" y="4709" width="168" height="27"/><text class="t" x="254.5" y="4726.5">总目标： 缩短差距 整体推进</text></g>
<g id="p5-2"><rect class="b5" x="749" y="5441" width="74" height="26"/><text class="t" x="755.5" y="5458.5">具体目标:</text></g>
<g id="p5-2-1"><rect class="b5" x="465" y="4763" width="260" height="146"/><text class="t" x="471.5" y="4780.5">积极全面开展教学、教育和科研工作，通过整<tspan x="471.5" dy="14.8">个备课组的努力，力争英语成绩在去年的水平</tspan><tspan x="471.5" dy="14.8">上有一定程度的提高。认真高效备课，狠抓课</tspan><tspan x="471.5" dy="14.8">堂教学，向45分钟要质量;缩小班与班的差距</tspan><tspan x="471.5" dy="14.8">，将平行班各班级分差控制在5分以内，实验</tspan><tspan x="471.5" dy="14.8">班各班级均分继续保持在3分以内;在初二阶段</tspan><tspan x="471.5" dy="14.8">的日常教学中注重基础知识训练，强化听说练</tspan><tspan x="471.5" dy="14.8">习，将优秀率提升;积极辅导学生参加竞赛，</tspan><tspan x="471.5" dy="14.8">争取取得优秀的成绩。</tspan></text></g>
<g id="p5-2-2"><rect class="b5" x="614" y="5253" width="111" height="26"/><text class="t" x="620.5" y="5270.5">四、学期工作重点</text></g>
<g id="p5-2-2-1"><rect class="b5" x="330" y="4936" width="261" height="86"/><text class="t" x="336.5" y="4953.5">1. 继续培养良好的学习习惯，在学生学习的<tspan x="336.5" dy="14.8">过程中，既要抓布置，更要抓检查，对于一些</tspan><tspan x="336.5" dy="14.8">不良的习惯要早发现，早处理，不让其发展。</tspan><tspan x="336.5" dy="14.8">学习上抓中间，促两头，防止后进生队伍的扩</tspan><tspan x="336.5" dy="14.8">大。</tspan></text></g>
<g id="p5-2-2-2"><rect class="b5" x="330" y="5048" width="261" height="177"/><text class="t" x="336.5" y="5065.5">2.继续坚持集体备课，发挥集体智慧，认真钻<tspan x="336.5" dy="14.8">研教材，改进教法，提高课堂效率。 我们备</tspan><tspan x="336.5" dy="14.8">课组教师将珍惜每周备课时间，共同研究教法</tspan><tspan x="336.5" dy="14.8">，经常性进行组内互听互评，不断提升自身业</tspan><tspan x="336.5" dy="14.8">务水平。针对教材的特点，备课组全体成员要</tspan><tspan x="336.5" dy="14.8">做到精心备课，吃透教材，根据每个单元各自</tspan><tspan x="336.5" dy="14.8">特征和学生的实际能力，制定出不同教学设计</tspan><tspan x="336.5" dy="14.8">方案，以此促进学生的积极性。在平时的常规</tspan><tspan x="336.5" dy="14.8">课堂教学时，力求教学明确目标，突出重点，</tspan><tspan x="336.5" dy="14.8">抓住关键点和难点，充分调动学生的积极性，</tspan><tspan x="336.5" dy="14.8">发挥学习主动性。</tspan></text></g>
<g id="p5-2-2-3"><rect class="b5" x="330" y="5274" width="261" height="41"/><text class="t" x="336.5" y="5291.5">3. 注意传授知识与及时评价相结合，强化反<tspan x="336.5" dy="14.8">馈，强化落实。</tspan></text></g>
<g id="p5-2-2-3-1"><rect class="b5" x="46" y="5251" width="261" height="87"/><text class="t" x="52.5" y="5268.5">教师要讲清每节课的每个知识点，如语音<tspan x="52.5" dy="14.8">、词汇、语法等要讲清楚、讲透彻。针对有的知识</tspan><tspan x="52.5" dy="14.8">点虽然讲了多次，但学生仍未掌握的知识</tspan><tspan x="52.5" dy="14.8">点，要把传授和评价结合起来并对部分</tspan><tspan x="52.5" dy="14.8">学生进行个别辅导，对知识点及时讲评。</tspan></text></g>
<g id="p5-2-2-4"><rect class="b5" x="330" y="5365" width="261" height="41"/><text class="t" x="336.5" y="5382.5">4.通过英语竞赛活动来提高学生学习英语的兴<tspan x="336.5" dy="14.8">趣和积极性，为初三的学习做好铺垫。</tspan></text></g>
<g id="p5-2-2-5"><rect class="b5" x="330" y="5533" width="261" height="41"/><text class="t" x="336.5" y="5550.5">5. 针对学生英语学习"两极分化"现象，我们将<tspan x="336.5" dy="14.8">采取如下措施：</tspan></text></g>
<g id="p5-2-2-5-1"><rect class="b5" x="46" y="5432" width="261" height="41"/><text class="t" x="52.5" y="5449.5">1)加强集体备课，仔细研究教材，制定切实<tspan x="52.5" dy="14.8">可行的教学计划。?</tspan></text></g>
<g id="p5-2-2-5-2"><rect class="b5" x="46" y="5499" width="261" height="86"/><text class="t" x="52.5" y="5516.5">2)面向全体，随时调整教学进度、深度<tspan x="52.5" dy="14.8">，注意深浅结合、因人而异，增</tspan><tspan x="52.5" dy="14.8">强学生的信心，顺利完成教学计划，</tspan><tspan x="52.5" dy="14.8">对学生都满腔热情、一视同仁，为</tspan><tspan x="52.5" dy="14.8">学生负责。</tspan></text></g>
<g id="p5-2-2-5-3"><rect class="b5" x="46" y="5613" width="261" height="86"/><text class="t" x="52.5" y="5630.5">3)对后进生要加倍关心、特殊爱护，耐心<tspan x="52.5" dy="14.8">解答他们学习疑难问题，使之</tspan><tspan x="52.5" dy="14.8">掌握学习策略。让每位学生真正感到教</tspan><tspan x="52.5" dy="14.8">师的关爱，产生亲近感，有利于师生间</tspan><tspan x="52.5" dy="14.8">的教学和谐。</tspan></text></g>
<g id="p5-2-3"><rect class="b5" x="614" y="6063" width="111" height="27"/><text class="t" x="620.5" y="6080.5">五、创造课程特色</text></g>
<g id="p5-2-3-1"><rect class="b5" x="530" y="5725" width="61" height="27"/><text class="t" x="536.5" y="5742.5">1)层次性</text></g>
<g id="p5-2-3-2"><rect class="b5" x="330" y="5778" width="261" height="103"/><text class="t" x="336.5" y="5795.5">我们最终的教学目标是通过三年的英语综合能<tspan x="336.5" dy="14.8">力的培养，学生的英语综合素质能达到较好的</tspan><tspan x="336.5" dy="14.8">水平。但是在教学初阶段，还是要立足基础知</tspan><tspan x="336.5" dy="14.8">识，一定要把学生的基础打好，随着学生基础</tspan><tspan x="336.5" dy="14.8">知识的增加，逐层加深难度，逐步把学生引入</tspan><tspan x="336.5" dy="14.8">更高层次的内容。</tspan></text></g>
<g id="p5-2-3-3"><rect class="b5" x="530" y="5907" width="61" height="27"/><text class="t" x="536.5" y="5924.5">2)合作性</text></g>
<g id="p5-2-3-4"><rect class="b5" x="330" y="5960" width="261" height="73"/><text class="t" x="336.5" y="5977.5">小组合作学习易于相互传递和接受信息，易于<tspan x="336.5" dy="14.8">相互激励参与意识，发挥各自特长，学生之间</tspan><tspan x="336.5" dy="14.8">能更好的取长补短，达到小组资源共享以及知</tspan><tspan x="336.5" dy="14.8">识和能力的相互促进。</tspan></text></g>
<g id="p5-2-3-5"><rect class="b5" x="530" y="6059" width="61" height="26"/><text class="t" x="536.5" y="6076.5">3)实践性</text></g>
<g id="p5-2-3-6"><rect class="b5" x="330" y="6111" width="261" height="178"/><text class="t" x="336.5" y="6128.5">结合学生的年龄特点和生活实际，创设丰富的<tspan x="336.5" dy="14.8">交际活动情景，增强语言实践的真实感，鼓励</tspan><tspan x="336.5" dy="14.8">学生积极主动地参与语言实践活动和创造性使</tspan><tspan x="336.5" dy="14.8">用语言的尝试，使学生获得不同的实践体验，</tspan><tspan x="336.5" dy="14.8">提高综合运用英语的能力。我们的课程除牛津</tspan><tspan x="336.5" dy="14.8">教材以外还会选用的大量阅读、听力材料，内</tspan><tspan x="336.5" dy="14.8">容涉及各个领域，有日常生活、名人介绍、异</tspan><tspan x="336.5" dy="14.8">域风情、文化艺术、科学探索等等。在学习了</tspan><tspan x="336.5" dy="14.8">这些知识之后通过开展大量的学生自主参与的</tspan><tspan x="336.5" dy="14.8">活动，使学生充分了解中西方文化差异，感受</tspan><tspan x="336.5" dy="14.8">多元文化的精彩。</tspan></text></g>
<g id="p5-2-3-7"><rect class="b5" x="530" y="6317" width="61" height="27"/><text class="t" x="536.5" y="6334.5">4)探究性</text></g>
<g id="p5-2-3-8"><rect class="b5" x="330" y="6370" width="261" height="88"/><text class="t" x="336.5" y="6387.5">新课改要求培养学生自主探索并解决问题的能<tspan x="336.5" dy="14.8">力，即"探究学习"。在教学中要善于挖掘教材</tspan><tspan x="336.5" dy="14.8">中蕴含的创造性因素，通过设疑、创设情境，</tspan><tspan x="336.5" dy="14.8">让学生积极运用所学的知识主动探索求异，大</tspan><tspan x="336.5" dy="14.8">胆进行发散性创造。</tspan></text></g>

<!-- PLAN 2 -->
<g id="p2"><rect x="1294" y="1950" width="147" height="34" style="rx:17px" fill="#f26522"/><text class="ms" x="1367.5" y="1971">英语上册必看教学计划2</text></g>
<g id="p2-1"><rect class="b2" x="1460" y="817" width="62" height="27"/><text class="s" x="1465" y="833.5">一、指导思想</text></g>
<g id="p2-1-1"><rect class="b2" x="1539" y="707" width="189" height="87"/><text class="s" x="1544" y="723">以"英语课程标准"为宗旨，适应新课程改革的<tspan x="1544" dy="15.6">需要，正确把握英语学科特点和倡导合作探究</tspan><tspan x="1544" dy="15.6">的学习方式。为培养学生积极地情感态度和正</tspan><tspan x="1544" dy="15.6">确的人生观，提高学生综合素质。以及为学生</tspan><tspan x="1544" dy="15.6">全面发展和终身发展奠定基础。</tspan></text></g>
<g id="p2-1-2"><rect class="b2" x="1539" y="820" width="189" height="178"/><text class="s" x="1544" y="836">在八年级的英语教学中，我将坚持：1、面向<tspan x="1544" dy="15.6">全体学生，关注他们的情感，激发他们学习英</tspan><tspan x="1544" dy="15.6">语的爱好，帮助他们建立学习的成就感和自信</tspan><tspan x="1544" dy="15.6">心，培养创新精神;2、整体设计目标，主要以</tspan><tspan x="1544" dy="15.6">学生技能、语言知识、情感态度、学习策略和</tspan><tspan x="1544" dy="15.6">文化意识的发展为基础;3、突出学生主体，尊</tspan><tspan x="1544" dy="15.6">重个体差异;4、采用多种学习模式进行教学，</tspan><tspan x="1544" dy="15.6">让学生在老师的指导下通过感知、体验、实践</tspan><tspan x="1544" dy="15.6">、参与和合作等方式，实现任务的目标，感受</tspan><tspan x="1544" dy="15.6">成功;5、留意过程评价，促进学生发展，让英</tspan><tspan x="1544" dy="15.6">语成为学生学习生活中最实用的工具。</tspan></text></g>
<g id="p2-2"><rect class="b2" x="1460" y="1100" width="143" height="26"/><text class="s" x="1465" y="1116">二、八年级英语教学的目标及地位</text></g>
<g id="p2-2-1"><rect class="b2" x="1621" y="1024" width="188" height="177"/><text class="s" x="1626" y="1040">使学生有较明确的英语学习动机和积极主动的<tspan x="1626" dy="15.6">学习态度;能听懂教师对有关认识话题的陈述</tspan><tspan x="1626" dy="15.6">并能参与讨论;能读供七至八年级学生阅读的</tspan><tspan x="1626" dy="15.6">简朴读物和克服生词障碍，理解大意;能根据</tspan><tspan x="1626" dy="15.6">阅读目的而运用适当的阅读策略;能与他人合</tspan><tspan x="1626" dy="15.6">作，解决问题，共同完成学习任务;能在学习</tspan><tspan x="1626" dy="15.6">中互相帮助，克服困难;能合理计划学习内容</tspan><tspan x="1626" dy="15.6">和积极探索适合自己的学习方法;能在学习和</tspan><tspan x="1626" dy="15.6">日常交际中留意到中外文化的差异。八年级英</tspan><tspan x="1626" dy="15.6">语教学在整个英语教学中起着至关重要的作用</tspan><tspan x="1626" dy="15.6">。</tspan></text></g>
<g id="p2-3"><rect class="b2" x="1460" y="1405" width="98" height="26"/><text class="s" x="1465" y="1421">三、学生情况简要分析</text></g>
<g id="p2-3-1"><rect class="b2" x="1575" y="1228" width="189" height="193"/><text class="s" x="1580" y="1244">本学期我上(34)、(35)班，通过七年级整年的<tspan x="1580" dy="15.6">英语学习，大多数学生已能听懂有关熟悉话题</tspan><tspan x="1580" dy="15.6">的语句。能与教师或同学就熟悉的话题交换信</tspan><tspan x="1580" dy="15.6">息。能读懂一些简单的英语文段。但由于各种</tspan><tspan x="1580" dy="15.6">因素的影响，学生总体的基础明显的参差不齐</tspan><tspan x="1580" dy="15.6">，有二十来个学生根本没有学习目标，完全放</tspan><tspan x="1580" dy="15.6">弃学习;有少数学生因为基础不够好，学习很</tspan><tspan x="1580" dy="15.6">吃力而自暴自弃，有的因此扰乱课堂次序，这</tspan><tspan x="1580" dy="15.6">给教学带来不少困难。但大部分学生有明确的</tspan><tspan x="1580" dy="15.6">学习目标，有一定的自觉性，学生的纪律总体</tspan><tspan x="1580" dy="15.6">还是不错，这样为学生的学习打下了良好的基</tspan><tspan x="1580" dy="15.6">础。</tspan></text></g>
<g id="p2-3-2"><rect class="b2" x="1575" y="1446" width="189" height="132"/><text class="s" x="1580" y="1462">另外，学生在情感态度以及学习策略方面还存<tspan x="1580" dy="15.6">在诸多需要进一步解决的问题。例如：很多学</tspan><tspan x="1580" dy="15.6">生不能明确学习英语的目的，没有真正认识到</tspan><tspan x="1580" dy="15.6">学习英语的目的在于交流;有大多数同学没有</tspan><tspan x="1580" dy="15.6">养成良好的学习习惯，不能做好课前预习、课</tspan><tspan x="1580" dy="15.6">后复习，学习没有计划性和策略性;不善于发</tspan><tspan x="1580" dy="15.6">现和总结语言规律，不留意知识的巩固和积累</tspan><tspan x="1580" dy="15.6">。</tspan></text></g>
<g id="p2-4"><rect class="b2" x="1460" y="2145" width="143" height="26"/><text class="s" x="1465" y="2161">四、侧重本学期的教学重点和难点</text></g>
<g id="p2-4-1"><rect class="b2" x="1621" y="2116" width="188" height="86"/><text class="s" x="1626" y="2132">本学期的重点将继续学习词汇和习惯用语，学<tspan x="1626" dy="15.6">习的语法知识点有：频率副词、询问情况、方</tspan><tspan x="1626" dy="15.6">式状语、提出邀请、形容词比较级、最高级等</tspan><tspan x="1626" dy="15.6">。其中状语从句和形容词是本册的难点，将重</tspan><tspan x="1626" dy="15.6">点学习。学习的重点单元是：</tspan></text></g>
<g id="u1"><rect class="b2" x="1826" y="1604" width="157" height="27"/><text class="s" x="1831" y="1620">Unit1 How often do you exercise ?</text></g>
<g id="u1a"><rect class="b2" x="1826" y="1697" width="189" height="41"/><text class="s" x="1831" y="1713">1.能讨论经常发生的活动。 2.能使用频率副词<tspan x="1831" dy="15.6">(always,</tspan></text></g>
<g id="u1b"><rect class="b2" x="2032" y="1656" width="189" height="57"/><text class="s" x="2037" y="1672">usually, often, sometimes, hardly ever, ne<tspan x="2037" dy="15.6">ver)来讨论日常活动的频率3.能以How often</tspan><tspan x="2037" dy="15.6">提问及回答</tspan></text></g>
<g id="u2"><rect class="b2" x="2032" y="1738" width="126" height="27"/><text class="s" x="2037" y="1754">Unit2 What' s the matter ?</text></g>
<g id="u2a"><rect class="b2" x="1826" y="1791" width="189" height="57"/><text class="s" x="1831" y="1807">1.能用what' s the matter?语句询问别人的<tspan x="1831" dy="15.6">健康状况.2.能描述自己的健康状况以及饮食</tspan><tspan x="1831" dy="15.6">习惯.</tspan></text></g>
<g id="u3"><rect class="b2" x="2032" y="1806" width="179" height="27"/><text class="s" x="2037" y="1822">Unit3 What are you doing for vacation?</text></g>
<g id="u3a"><rect class="b2" x="1826" y="1873" width="189" height="41"/><text class="s" x="1831" y="1889">1.学会用现在进行时形式表示将来发生的动作<tspan x="1831" dy="15.6">.2.知道哪一些动词可以用这种形式.</tspan></text></g>
<g id="u4"><rect class="b2" x="2032" y="1880" width="151" height="27"/><text class="s" x="2037" y="1896">Unit4 How do you get to school?</text></g>
<g id="u4a"><rect class="b2" x="1826" y="1940" width="189" height="57"/><text class="s" x="1831" y="1956">1.能运用各种方式表示交通途径。2.会用HO<tspan x="1831" dy="15.6">W..提问以及回答。 Unit5 Can you came to</tspan><tspan x="1831" dy="15.6"> my party?</tspan></text></g>
<g id="u5a"><rect class="b2" x="1826" y="2023" width="189" height="41"/><text class="s" x="1831" y="2039">1.会使用can语句征询意见.2.可以了解西方国<tspan x="1831" dy="15.6">家的party以及它们的风俗习惯.</tspan></text></g>
<g id="u6"><rect class="b2" x="2032" y="2023" width="189" height="41"/><text class="s" x="2037" y="2039">Unit6 I' m more outgoing than my sister<tspan x="2037" dy="15.6">?</tspan></text></g>
<g id="u6a"><rect class="b2" x="1826" y="2090" width="189" height="41"/><text class="s" x="1831" y="2106">1.能描述事务或时间的属性以及人的性格特征<tspan x="1831" dy="15.6">.2.能学会运用形容词的比较等级.</tspan></text></g>
<g id="u7"><rect class="b2" x="2032" y="2090" width="189" height="41"/><text class="s" x="2037" y="2106">Unit7 How do you make a banana milk sh<tspan x="2037" dy="15.6">ake?</tspan></text></g>
<g id="u7a"><rect class="b2" x="1826" y="2157" width="189" height="42"/><text class="s" x="1831" y="2173">1.能描述动作或事件发生的先后顺序。2.能分<tspan x="1831" dy="15.6">辨并正确使用first、next、then、finally.</tspan></text></g>
<g id="u8"><rect class="b2" x="2032" y="2164" width="148" height="27"/><text class="s" x="2037" y="2180">Unit8 How was your school trip?</text></g>
<g id="u8a"><rect class="b2" x="1826" y="2224" width="189" height="42"/><text class="s" x="1831" y="2240">1.学会描述过去发生的事物、活动以及自己的<tspan x="1831" dy="15.6">感受.</tspan></text></g>
<g id="u8b"><rect class="b2" x="1826" y="2291" width="162" height="27"/><text class="s" x="1831" y="2307">2.复习动词过去式的规则和不规则变化.</text></g>
<g id="u8c"><rect class="b2" x="1826" y="2343" width="187" height="28"/><text class="s" x="1831" y="2360">3.能用how was/were...句型询问事情的情况.</text></g>
<g id="u9"><rect class="b2" x="2030" y="2343" width="119" height="28"/><text class="s" x="2035" y="2360">Unit9 When was he born?</text></g>
<g id="u9a"><rect class="b2" x="1826" y="2396" width="151" height="27"/><text class="s" x="1831" y="2412">1.能用英语说出一年里的重要节日.</text></g>
<g id="u9b"><rect class="b2" x="1826" y="2448" width="151" height="26"/><text class="s" x="1831" y="2464">2.能用英文说出十二个月份与日期。</text></g>
<g id="u9c"><rect class="b2" x="1826" y="2508" width="158" height="26"/><text class="s" x="1831" y="2524">3.能使用适当的时间介词(in, on, at)。</text></g>
<g id="u10"><rect class="b2" x="2002" y="2500" width="189" height="41"/><text class="s" x="2007" y="2516">Unit10 I' m going to be a basketball play<tspan x="2007" dy="15.6">er.</tspan></text></g>
<g id="u10a"><rect class="b2" x="1826" y="2567" width="189" height="42"/><text class="s" x="1831" y="2583">1.能学会用be going to表示将来计划的动作<tspan x="1831" dy="15.6">或活动。</tspan></text></g>
<g id="u10b"><rect class="b2" x="1826" y="2634" width="133" height="27"/><text class="s" x="1831" y="2650">2.了解社会对各种职业的看法。</text></g>
<g id="u10c"><rect class="b2" x="1826" y="2686" width="118" height="27"/><text class="s" x="1831" y="2702">3.用英语谈论自己的"理想。</text></g>
<g id="p2-5"><rect class="b2" x="1460" y="3090" width="107" height="27"/><text class="s" x="1465" y="3106">五、提高教学质量的措施</text></g>
<g id="p2-5-1"><rect class="b2" x="1584" y="2739" width="189" height="41"/><text class="s" x="1589" y="2755">1、认真钻研教材，提高自己驾驭教材的能力;<tspan x="1589" dy="15.6">不断学习，加强自身素质和业务能力的提高。</tspan></text></g>
<g id="p2-5-2"><rect class="b2" x="1584" y="2806" width="189" height="27"/><text class="s" x="1589" y="2822">2、积极参与课堂改革，将学生充分调动起来;</text></g>
<g id="p2-5-3"><rect class="b2" x="1584" y="2858" width="189" height="41"/><text class="s" x="1589" y="2874">3、准确引导尖子生，抓好中等生，辅导好学<tspan x="1589" dy="15.6">困生;</tspan></text></g>
<g id="p2-5-4"><rect class="b2" x="1584" y="2926" width="189" height="41"/><text class="s" x="1589" y="2942">4、作业做到及时批改，发现问题及时反溃或<tspan x="1589" dy="15.6">单独辅导;</tspan></text></g>
<g id="p2-5-5"><rect class="b2" x="1584" y="2993" width="189" height="41"/><text class="s" x="1589" y="3009">5、认真备课，认真指导，尽量提高四十五分<tspan x="1589" dy="15.6">钟的效率;</tspan></text></g>
<g id="p2-5-6"><rect class="b2" x="1584" y="3060" width="178" height="27"/><text class="s" x="1589" y="3076">6、天天背诵课文中的重要语段，培养语感;</text></g>
<g id="p2-5-7"><rect class="b2" x="1584" y="3112" width="189" height="41"/><text class="s" x="1589" y="3128">7、规定早读内容，加强监督，保证早读效果<tspan x="1589" dy="15.6">。</tspan></text></g>
<g id="p2-5-8"><rect class="b2" x="1584" y="3179" width="189" height="57"/><text class="s" x="1589" y="3195">8、 坚持单元检测、月考的形成性评价制度，<tspan x="1589" dy="15.6">在班里形成浓厚的学习氛围，培养学生健康向</tspan><tspan x="1589" dy="15.6">上的人格和竞争意识;</tspan></text></g>
<g id="p2-5-9"><rect class="b2" x="1584" y="3261" width="189" height="42"/><text class="s" x="1589" y="3277">9、加强对学生学习策略的指导，为他们终身<tspan x="1589" dy="15.6">学习奠定基础;</tspan></text></g>
<g id="p2-5-10"><rect class="b2" x="1584" y="3329" width="189" height="72"/><text class="s" x="1589" y="3345">10、充分利用现代教育技术，利用计算机和<tspan x="1589" dy="15.6">多媒体教学软件，开发英语教学资源，拓宽学</tspan><tspan x="1589" dy="15.6">生学习渠道，改进学生学习方式，提高教学质</tspan><tspan x="1589" dy="15.6">量。</tspan></text></g>
<g id="p2-5-11"><rect class="b2" x="1584" y="3427" width="189" height="41"/><text class="s" x="1589" y="3443">11.多与学生沟通，了解学生学习状况和需求<tspan x="1589" dy="15.6">，及时改进教学中存在的问题和不足。</tspan></text></g>

<!-- PLAN 4 -->
<g id="p4"><rect x="1294" y="4069" width="147" height="35" style="rx:17px" fill="#c0399b"/><text class="ms" x="1367.5" y="4090.5">英语上册必看教学计划4</text></g>
<g id="p4-1"><rect class="b4" x="1460" y="3495" width="188" height="101"/><text class="s" x="1465" y="3511">本学期的英语教学主要以围绕培养学生的语言<tspan x="1465" dy="15.6">运用能力的同时，更加重视培养学生的语言学</tspan><tspan x="1465" dy="15.6">习策略和技能，这些策略和技能是帮助学生进</tspan><tspan x="1465" dy="15.6">一步学好英语的基础，让学生掌握了一定语言</tspan><tspan x="1465" dy="15.6">运用技巧后，能够学会用英语表达思想、与人</tspan><tspan x="1465" dy="15.6">交流。</tspan></text></g>
<g id="p4-2"><rect class="b4" x="1460" y="3622" width="188" height="56"/><text class="s" x="1465" y="3638">本学期教材设计具有交际意义的任务和活动，<tspan x="1465" dy="15.6">目的是让学生在课堂上"活起来，"动"起来，</tspan><tspan x="1465" dy="15.6">希望学生充分参与，能够与老师合作。</tspan></text></g>
<g id="p4-3"><rect class="b4" x="1460" y="3851" width="53" height="27"/><text class="s" x="1465" y="3867">教材分析:</text></g>
<g id="p4-3-1"><rect class="b4" x="1531" y="3705" width="188" height="41"/><text class="s" x="1536" y="3721">本套教材根据学生心理特点、认知水平和兴趣<tspan x="1536" dy="15.6">爱好来编写。</tspan></text></g>
<g id="p4-3-2"><rect class="b4" x="1531" y="3772" width="188" height="56"/><text class="s" x="1536" y="3788">1、教材不仅帮助学生学习英语语言知识，更<tspan x="1536" dy="15.6">重要的是帮助学生发展语言运用能力，让学生</tspan><tspan x="1536" dy="15.6">学会用英语表达思想、学会交流。</tspan></text></g>
<g id="p4-3-3"><rect class="b4" x="1531" y="3854" width="188" height="87"/><text class="s" x="1536" y="3870">2、教材充分考虑学生的生活实际和学习需要<tspan x="1536" dy="15.6">，教材的内容和活动都与学生的生活和兴趣紧</tspan><tspan x="1536" dy="15.6">密相连，目的是让学生在英语学习中不感到枯</tspan><tspan x="1536" dy="15.6">燥乏味，而是有话可说、有话想说、有话能说</tspan><tspan x="1536" dy="15.6">。</tspan></text></g>
<g id="p4-3-4"><rect class="b4" x="1531" y="3967" width="188" height="71"/><text class="s" x="1536" y="3983">3、教材进一步丰富了文化教学的内容，包括<tspan x="1536" dy="15.6">民族文化、英语国家的文化和非英国国家的文</tspan><tspan x="1536" dy="15.6">化。通过文化内容的学习，使学生视野更开阔</tspan><tspan x="1536" dy="15.6">，思想更丰富，思维更活跃，交流更得体。</tspan></text></g>
<g id="p4-4"><rect class="b4" x="1460" y="4132" width="53" height="27"/><text class="s" x="1465" y="4148">学情分析:</text></g>
<g id="p4-4-1"><rect class="b4" x="1531" y="4064" width="188" height="162"/><text class="s" x="1536" y="4080">八年级学生，总体基础明显参差不齐，有几个<tspan x="1536" dy="15.6">学生根本没有学习目标，一两个完全放弃学习</tspan><tspan x="1536" dy="15.6">，纪律不够好，这成了班级英语成绩的总体提</tspan><tspan x="1536" dy="15.6">高的拦路虎。另外，学生在情感态度、学习策</tspan><tspan x="1536" dy="15.6">略等方面还存在诸多需要进一步解决的问题。</tspan><tspan x="1536" dy="15.6">例如：很多学生不明确英语学习的目的;有些</tspan><tspan x="1536" dy="15.6">学生在学习中缺乏小组合作意识;大多数同学</tspan><tspan x="1536" dy="15.6">没有养成良好的学习习惯，不能做好课前预习</tspan><tspan x="1536" dy="15.6">课后复习，学习没有计划性和策略性;不善于</tspan><tspan x="1536" dy="15.6">发现和总结语言规律。</tspan></text></g>
<g id="p4-5"><rect class="b4" x="1460" y="4252" width="62" height="27"/><text class="s" x="1465" y="4268">教学重难点:</text></g>
<g id="p4-6"><rect class="b4" x="1460" y="4322" width="188" height="57"/><text class="s" x="1465" y="4338">重点： 继承学习词汇和习惯用语，语法知识<tspan x="1465" dy="15.6">点：频率副词、询问情况、方式状语、提出邀</tspan><tspan x="1465" dy="15.6">请、形容词比较级、最高级等。 重难点：</tspan></text></g>
<g id="p4-6-1"><rect class="b4" x="1666" y="4304" width="103" height="27"/><text class="s" x="1671" y="4320">1、状语从句和形容词。</text></g>
<g id="p4-6-2"><rect class="b4" x="1666" y="4357" width="188" height="56"/><text class="s" x="1671" y="4373">2、Wh-引导的特殊疑问句，表示频率的副词<tspan x="1671" dy="15.6">，情态动词should/shouldnt的用法，When</tspan><tspan x="1671" dy="15.6">引导的状语从句，被动语态。</tspan></text></g>
<g id="p4-7"><rect class="b4" x="1460" y="4616" width="53" height="26"/><text class="s" x="1465" y="4632">教学措施:</text></g>
<g id="p4-7-1"><rect class="b4" x="1531" y="4439" width="188" height="42"/><text class="s" x="1536" y="4455">1、认真钻研教材，提高自己驾驭教材的能力<tspan x="1536" dy="15.6">。</tspan></text></g>
<g id="p4-7-2"><rect class="b4" x="1531" y="4506" width="188" height="42"/><text class="s" x="1536" y="4522">2、准确引导优秀生，抓好中等生，辅导好学<tspan x="1536" dy="15.6">困生。</tspan></text></g>
<g id="p4-7-3"><rect class="b4" x="1531" y="4573" width="188" height="42"/><text class="s" x="1536" y="4589">3、作业批改到位，发现问题及时反溃或单独<tspan x="1536" dy="15.6">辅导。</tspan></text></g>
<g id="p4-7-4"><rect class="b4" x="1531" y="4641" width="188" height="42"/><text class="s" x="1536" y="4657">4、认真备课，认真上课，尽量提高课堂的效<tspan x="1536" dy="15.6">率。</tspan></text></g>
<g id="p4-7-5"><rect class="b4" x="1531" y="4708" width="188" height="41"/><text class="s" x="1536" y="4724">5、要求学生背诵并默写部分对话，培养语感<tspan x="1536" dy="15.6">。</tspan></text></g>
<g id="p4-7-6"><rect class="b4" x="1531" y="4775" width="188" height="42"/><text class="s" x="1536" y="4791">6、认真贯彻晨读制度：规定晨读内容，加强<tspan x="1536" dy="15.6">监督，保证晨读效果。</tspan></text></g>

<!-- RELATED -->
<g id="rel"><rect x="1294" y="5074" width="199" height="34" style="rx:17px" fill="#7e58b8"/><text class="ms" x="1393.5" y="5095">英语上册必看教学计划相关文章:</text></g>
<g id="rel-1"><rect class="b6" x="1511" y="4843" width="153" height="26"/><text class="s" x="1516" y="4859">★ 英语教学计划五年级上册模板五篇</text></g>
<g id="rel-2"><rect class="b6" x="1511" y="4894" width="150" height="27"/><text class="s" x="1516" y="4911">★ 新课标初一英语上册教学计划5篇</text></g>
<g id="rel-3"><rect class="b6" x="1511" y="4946" width="130" height="27"/><text class="s" x="1516" y="4963">★ 英语上册教师教学计划2022</text></g>
<g id="rel-4"><rect class="b6" x="1511" y="4998" width="138" height="27"/><text class="s" x="1516" y="5015">★ 九年级英语上册教学计划2021</text></g>
<g id="rel-5"><rect class="b6" x="1511" y="5051" width="123" height="26"/><text class="s" x="1516" y="5067">★ 英语课程高效教学计划5篇</text></g>
<g id="rel-6"><rect class="b6" x="1511" y="5103" width="158" height="26"/><text class="s" x="1516" y="5119">★ 人教版三年级英语上册教学计划5篇</text></g>
<g id="rel-7"><rect class="b6" x="1511" y="5155" width="153" height="26"/><text class="s" x="1516" y="5171">★ 四年级上册英语高效教学计划五篇</text></g>
<g id="rel-8"><rect class="b6" x="1511" y="5207" width="153" height="27"/><text class="s" x="1516" y="5224">★ 人教英语一年级上册教学计划五篇</text></g>
<g id="rel-9"><rect class="b6" x="1511" y="5259" width="141" height="27"/><text class="s" x="1516" y="5276">★ 英语老师教学计划整理分析5篇</text></g>
<g id="rel-10"><rect class="b6" x="1511" y="5311" width="141" height="27"/><text class="s" x="1516" y="5328">★ 初一英语课程教学计划方案5篇</text></g>
</g>
</svg>
